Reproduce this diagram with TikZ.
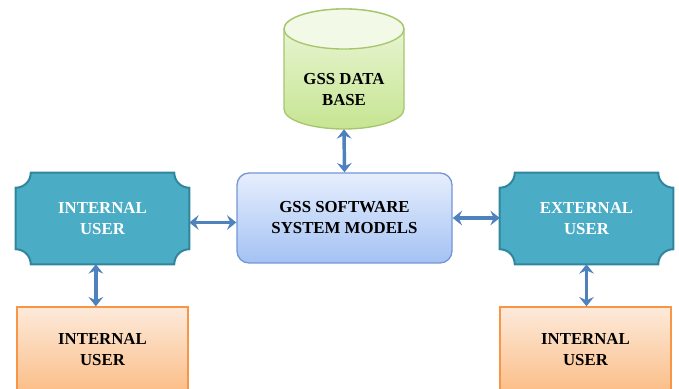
\documentclass[tikz,border=0pt]{standalone}
\usepackage{fontspec}
\setmainfont{Liberation Serif}
\usetikzlibrary{arrows.meta, calc}

\definecolor{linkblue}{HTML}{4F81BD}
\definecolor{tealfill}{HTML}{4BACC6}
\definecolor{tealline}{HTML}{31859C}
\definecolor{coretop}{HTML}{E6EEFD}
\definecolor{corebot}{HTML}{A4C2F4}
\definecolor{coreline}{HTML}{7396D6}
\definecolor{orangetop}{HTML}{FDEADB}
\definecolor{orangebot}{HTML}{FBBE87}
\definecolor{orangeline}{HTML}{F79646}
\definecolor{greentop}{HTML}{EDF7DC}
\definecolor{greenbot}{HTML}{C6E592}
\definecolor{greencap}{HTML}{F2F9E6}
\definecolor{greenline}{HTML}{A5C66E}

\begin{document}
\begin{tikzpicture}[x=0.75pt, y=0.75pt,
    font=\fontsize{12.6}{15.75}\selectfont\bfseries,
    txt/.style={align=center, inner sep=0pt},
    userbox/.style={txt, text=white, minimum width=129.75pt, minimum height=68.25pt},
    corebox/.style={txt, draw=coreline, line width=1pt, rounded corners=9pt,
        top color=coretop, bottom color=corebot, minimum width=161.25pt, minimum height=67.5pt},
    leafbox/.style={txt, draw=orangeline, line width=1pt,
        top color=orangetop, bottom color=orangebot, minimum width=128.25pt, minimum height=63.75pt},
    scoop/.style={draw=tealline, fill=tealfill, line width=1.5pt},
    link/.style={draw=linkblue, line width=2.6pt,
        {Stealth[length=7pt,width=11pt,inset=2.5pt]}-{Stealth[length=7pt,width=11pt,inset=2.5pt]}}]
    \useasboundingbox (0,0) rectangle (679,389);

    % Data base cylinder
    \draw[draw=greenline, line width=1pt, top color=greentop, bottom color=greenbot]
        (284,360) -- (284,280) arc[start angle=180, end angle=360, x radius=45pt, y radius=15pt]
        -- (404,360) arc[start angle=0, end angle=180, x radius=45pt, y radius=15pt] -- cycle;
    \draw[draw=greenline, line width=1pt, fill=greencap] (344,360) ellipse[x radius=45pt, y radius=15pt];
    \node[txt, minimum width=90pt, minimum height=58.5pt] (db) at (344,299) {GSS DATA\\BASE};

    % Core
    \node[corebox] (core) at (344.5,171) {GSS SOFTWARE\\SYSTEM MODELS};

    % Users
    \node[userbox] (intuser) at (102.5,170.5) {};
    \node[userbox] (extuser) at (586.5,170.5) {};
    \foreach \n in {intuser, extuser}
        \draw[scoop] ($(\n.north west)+(15,0)$) -- ($(\n.north east)+(-15,0)$)
            arc[start angle=180, end angle=270, radius=11.25pt] -- ($(\n.south east)+(0,15)$)
            arc[start angle=90, end angle=180, radius=11.25pt] -- ($(\n.south west)+(15,0)$)
            arc[start angle=0, end angle=90, radius=11.25pt] -- ($(\n.north west)+(0,-15)$)
            arc[start angle=270, end angle=360, radius=11.25pt] -- cycle;
    \node[txt, text=white] at (intuser) {INTERNAL\\USER};
    \node[txt, text=white] at (extuser) {EXTERNAL\\USER};

    % Bottom boxes
    \node[leafbox] (lowleft) at (102.5,39.5) {INTERNAL\\USER};
    \node[leafbox] (lowright) at (585.5,39.5) {INTERNAL\\USER};

    % Links
    \draw[link] (db.south) -- (core.north);
    \draw[link] ([yshift=-3]intuser.east) -- ([yshift=-3]intuser.east -| core.west);
    \draw[link] (core.east) -- (core.east -| extuser.west);
    \draw[link] ([xshift=-5]intuser.south) -- ([xshift=-5]intuser.south |- lowleft.north);
    \draw[link] (extuser.south) -- (extuser.south |- lowright.north);
\end{tikzpicture}
\end{document}
